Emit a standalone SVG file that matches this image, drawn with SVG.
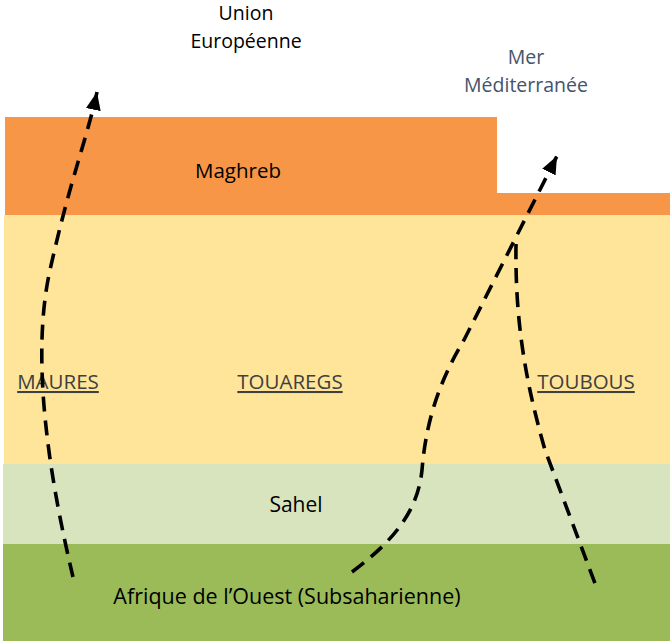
<svg xmlns="http://www.w3.org/2000/svg" width="670" height="641" viewBox="0 0 670 641">
<style>
text{font-family:"Open Sans","Noto Sans",sans-serif;font-size:20.5px;fill:#000;text-anchor:middle}
.two{font-size:19.5px}
.sea{fill:#44546A}
.eth{fill:#404040;text-decoration:underline}
.route{fill:none;stroke:#000;stroke-width:3.6;stroke-dasharray:15 9}
</style>
<defs>
<marker id="ah" viewBox="0 0 18 15" refX="18" refY="7.5" markerWidth="18" markerHeight="15" markerUnits="userSpaceOnUse" orient="auto">
<path d="M0,0 L18,7.5 L0,15 z" fill="#000"/>
</marker>
</defs>
<rect width="670" height="641" fill="#fff"/>
<g id="maghreb">
<path d="M5,117 H497 V193 H670 V215 H5 Z" fill="#F79646"/>
<text x="238" y="178">Maghreb</text>
</g>
<g id="sahara">
<rect x="4" y="215" width="666" height="249" fill="#FFE599"/>
</g>
<g id="sahel">
<rect x="3" y="464" width="667" height="80" fill="#D7E4BD"/>
<text x="296" y="512" style="font-size:21px">Sahel</text>
</g>
<g id="afrique-ouest">
<rect x="3" y="544" width="667" height="97" fill="#9BBB59"/>
<text x="287" y="604" style="font-size:21.5px">Afrique de l’Ouest (Subsaharienne)</text>
</g>
<g id="union-europeenne">
<text class="two" x="246" y="20">Union</text>
<text class="two" x="246" y="47.5">Européenne</text>
</g>
<g id="mer">
<text class="two sea" x="526" y="64">Mer</text>
<text class="two sea" x="526" y="91.5">Méditerranée</text>
</g>
<g id="maures"><text class="eth" x="58" y="389">MAURES</text></g>
<g id="touaregs"><text class="eth" x="290" y="389">TOUAREGS</text></g>
<g id="toubous"><text class="eth" x="586" y="389">TOUBOUS</text></g>
<g id="connectors">
<path class="route" d="M73,577 C50,480 30,360 50,270 S88,135 97,92" marker-end="url(#ah)"/>
<path class="route" d="M352,572 C395,540 418,510 422,470 C426,420 440,380 464,340 L557,156" marker-end="url(#ah)"/>
<path class="route" d="M516,244 C515,320 525,380 545,450 L596,586"/>
</g>
</svg>
